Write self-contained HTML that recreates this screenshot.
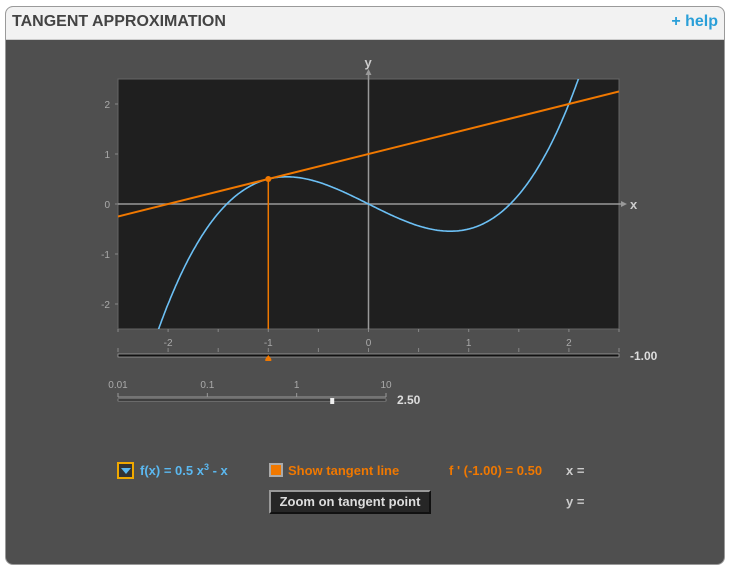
<!DOCTYPE html>
<html><head><meta charset="utf-8"><style>
body{margin:0;width:731px;height:570px;background:#fff;font-family:"Liberation Sans",sans-serif;overflow:hidden}
#frame{position:absolute;left:5px;top:6px;width:718px;height:557px;border:1px solid #9a9a9a;border-radius:8px;background:#4f4f4f;overflow:hidden}
#hdr{position:absolute;left:0;top:0;width:718px;height:32px;background:#f2f2f2;border-bottom:1px solid #ccc}
.t{position:absolute;white-space:nowrap}
sup{font-size:9px;line-height:0;vertical-align:5px}
</style></head><body>
<div id="frame">
<div id="hdr">
<div class="t" style="left:6px;top:6px;font-size:16px;font-weight:bold;color:#444">TANGENT APPROXIMATION</div>
<div class="t" style="right:6px;top:6px;font-size:16px;font-weight:bold;color:#2a9fd8">+ help</div>
</div>
</div>
<svg id="chart" width="731" height="570" style="position:absolute;left:0;top:0" font-family="Liberation Sans, sans-serif"></svg>
<div class="t" style="left:117px;top:462px;width:13px;height:13px;border:2px solid #f0a800;background:#333"><div style="margin:4px 0 0 2px;width:0;height:0;border-left:5px solid transparent;border-right:5px solid transparent;border-top:6px solid #5bb8f0"></div></div>
<div class="t" style="left:140px;top:463px;font-size:13px;font-weight:bold;color:#5bb8f0">f(x) = 0.5 x<sup>3</sup> - x</div>
<div class="t" style="left:269px;top:463px;width:10px;height:10px;border:2px solid #aaa;background:#f07800"></div>
<div class="t" style="left:288px;top:463px;font-size:13px;font-weight:bold;color:#f07800">Show tangent line</div>
<div class="t" style="left:449px;top:463px;font-size:13px;font-weight:bold;color:#f07800">f ' (-1.00) = 0.50</div>
<div class="t" style="left:566px;top:463px;font-size:13px;font-weight:bold;color:#ccc">x =</div>
<div class="t" style="left:566px;top:494px;font-size:13px;font-weight:bold;color:#ccc">y =</div>
<div class="t" style="left:269px;top:490px;width:158px;height:20px;border:2px solid #999;border-right-color:#111;border-bottom-color:#111;background:#262626;color:#ddd;font-size:13px;font-weight:bold;line-height:20px;text-align:center">Zoom on tangent point</div>
<script>
const xTicks=[-2,-1,0,1,2];
const yTicks=[-2,-1,0,1,2];
const coeffs=[0,-1,0,0.5]; // f(x)=0.5x^3 - x
const tangentX=[-1];
const logTicks=["0.01","0.1","1","10"];
const zoomValue=[2.5];
const svg=document.getElementById('chart');
const NS='http://www.w3.org/2000/svg';
const X0=118,X1=619,Y0=79,Y1=329,xmin=-2.5,xmax=2.5,ymin=-2.5,ymax=2.5;
const sx=v=>X0+(v-xmin)/(xmax-xmin)*(X1-X0);
const sy=v=>Y1-(v-ymin)/(ymax-ymin)*(Y1-Y0);
const f=x=>coeffs.reduce((s,c,i)=>s+c*Math.pow(x,i),0);
const df=x=>coeffs.reduce((s,c,i)=>s+(i?i*c*Math.pow(x,i-1):0),0);
function el(t,a,p){const e=document.createElementNS(NS,t);for(const k in a)e.setAttribute(k,a[k]);(p||svg).appendChild(e);return e;}
const bg=el('rect',{x:X0,y:Y0,width:X1-X0,height:Y1-Y0,fill:'#1f1f1f',stroke:'#666'});


const cp=el('clipPath',{id:'cp'});el('rect',{x:X0,y:Y0,width:X1-X0,height:Y1-Y0},cp);
const xa=el('line',{x1:X0,y1:sy(0),x2:X1+4,y2:sy(0),stroke:'#999','stroke-width':1.5});


el('path',{d:`M${X1+8} ${sy(0)} l-6 -3 v6z`,fill:'#999'});
const ya=el('line',{x1:sx(0),y1:Y1,x2:sx(0),y2:Y0-8,stroke:'#999','stroke-width':1.5});


el('path',{d:`M${sx(0)} ${Y0-10} l-3 6 h6z`,fill:'#999'});
const xl=el('text',{x:X1+11,y:sy(0)+5,fill:'#ccc','font-size':13,'font-weight':'bold'});xl.textContent='x';


const yl=el('text',{x:sx(0)-4,y:Y0-12,fill:'#ccc','font-size':13,'font-weight':'bold'});yl.textContent='y';


for(let v=-2.5;v<=2.5;v+=0.5){el('line',{x1:sx(v),y1:Y1,x2:sx(v),y2:Y1+3,stroke:'#888'});el('line',{x1:sx(v),y1:352,x2:sx(v),y2:348,stroke:'#888'});}
xTicks.forEach(v=>{const t=el('text',{x:sx(v),y:346,fill:'#aaa','font-size':10,'text-anchor':'middle'});t.textContent=v;

});
yTicks.forEach(v=>{el('line',{x1:X0-3,y1:sy(v),x2:X0,y2:sy(v),stroke:'#888'});const t=el('text',{x:X0-8,y:sy(v)+4,fill:'#aaa','font-size':10,'text-anchor':'end'});t.textContent=v;

});
let d='';for(let i=0;i<=400;i++){const x=xmin+i*(xmax-xmin)/400;d+=(i?'L':'M')+sx(x).toFixed(1)+' '+sy(f(x)).toFixed(1);}
const cv=el('path',{d,fill:'none',stroke:'#6cc0f5','stroke-width':1.6,'clip-path':'url(#cp)'});


const a=tangentX[0],fa=f(a),m=df(a);
const tl=el('line',{x1:sx(xmin),y1:sy(fa+m*(xmin-a)),x2:sx(xmax),y2:sy(fa+m*(xmax-a)),stroke:'#f07800','stroke-width':2,'clip-path':'url(#cp)'});


const vl=el('line',{x1:sx(a),y1:sy(fa),x2:sx(a),y2:Y1,stroke:'#f07800','stroke-width':1.5});


const tp=el('circle',{cx:sx(a),cy:sy(fa),r:3,fill:'#f07800'});


const tr=el('rect',{x:X0,y:354,width:X1-X0,height:3,fill:'#111',stroke:'#aaa','stroke-width':0.7});


const th=el('path',{d:`M${sx(a)} 355 l-3 4 v2 h6 v-2z`,fill:'#f07800'});


const xv=el('text',{x:630,y:360,fill:'#ddd','font-size':12,'font-weight':'bold'});xv.textContent=a.toFixed(2);


const L0=118,L1=386,lx=v=>L0+(Math.log10(v)+2)/3*(L1-L0);
logTicks.forEach(s=>{const v=+s;el('line',{x1:lx(v),y1:393,x2:lx(v),y2:397,stroke:'#999'});const t=el('text',{x:lx(v),y:388,fill:'#aaa','font-size':10,'text-anchor':'middle'});t.textContent=s;

});
el('line',{x1:L0,y1:397,x2:L1,y2:397,stroke:'#999'});
const lt=el('rect',{x:L0,y:399,width:L1-L0,height:2,fill:'#111',stroke:'#aaa','stroke-width':0.6});


const lth=el('rect',{x:lx(zoomValue[0])-2,y:398,width:4,height:6,fill:'#eee'});


const lv=el('text',{x:397,y:404,fill:'#ddd','font-size':12,'font-weight':'bold'});lv.textContent=zoomValue[0].toFixed(2);


</script>
</body></html>
